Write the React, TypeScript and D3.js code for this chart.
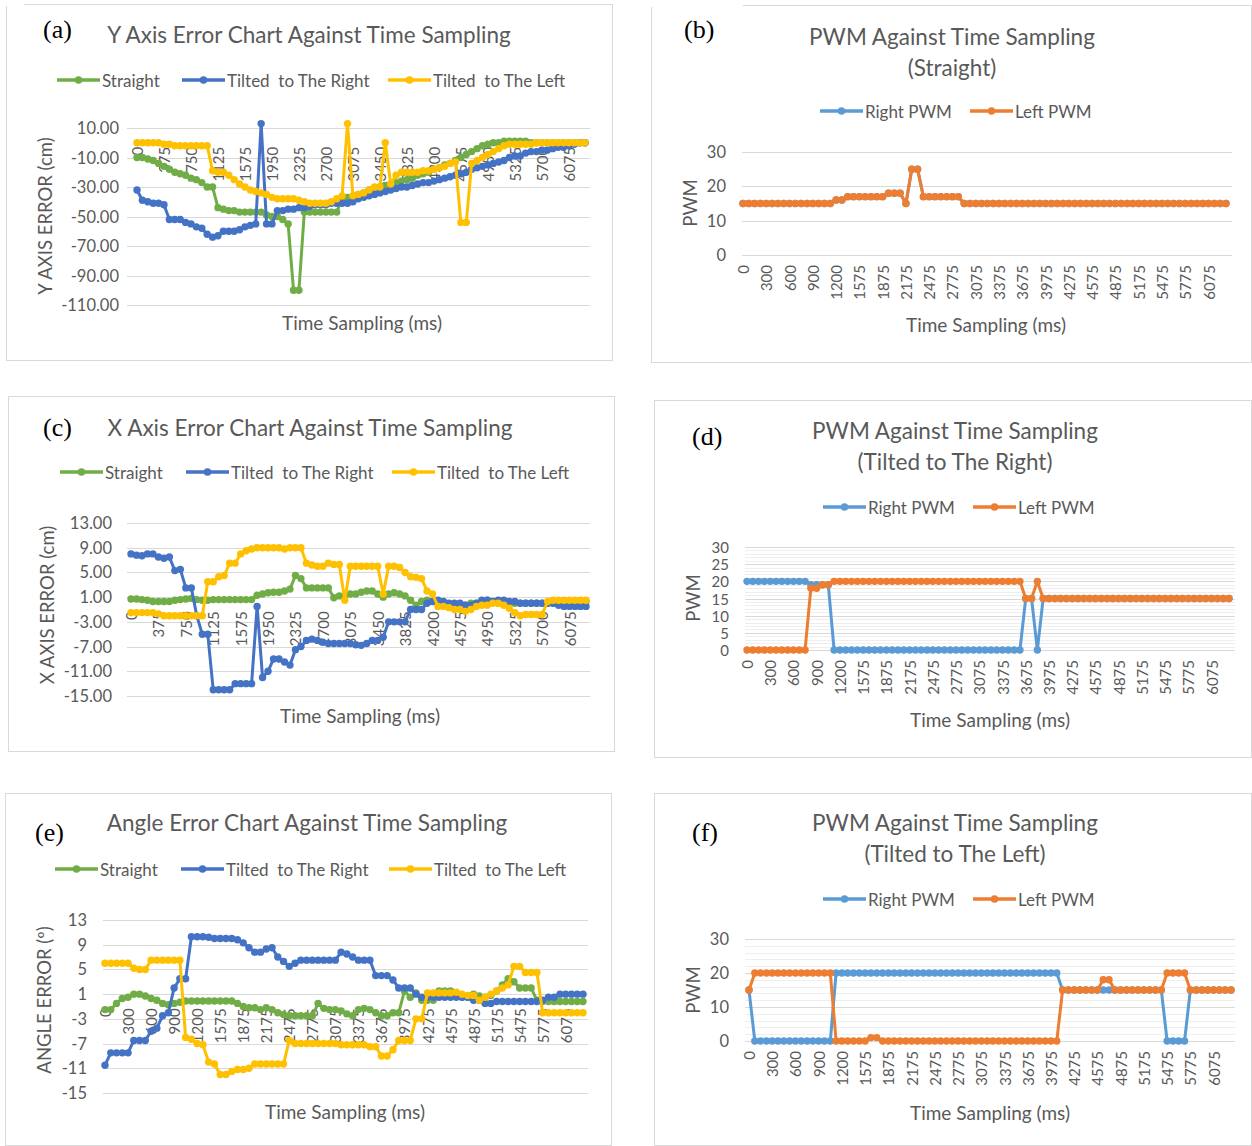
import React from 'react';
import * as d3 from 'd3';

// ---------- shared categories (ms) ----------
const times = [0,75,150,225,300,375,450,525,600,675,750,825,900,975,1050,1125,1200,1350,1425,1500,1575,1650,1725,1800,1875,1950,2025,2100,2175,2250,2325,2400,2475,2550,2625,2700,2775,2850,2925,3000,3075,3150,3225,3300,3375,3450,3525,3600,3675,3750,3825,3900,3975,4050,4125,4200,4275,4350,4425,4500,4575,4650,4725,4800,4875,4950,5025,5100,5175,5250,5325,5400,5475,5550,5625,5700,5775,5850,5925,6000,6075,6150,6225,6300];

// ---------- (a) Y axis error ----------
const aStraight = [-10,-10,-11,-12,-14,-16,-18,-20,-21,-22, -24,-25,-27,-30,-30,-44,-45,-46,-46,-47, -47,-47,-47,-47,-49,-50,-50,-52,-55,-100, -100,-47,-47,-47,-47,-47,-47,-47,-38,-37, -36,-35,-34,-32,-31,-30,-29,-28,-27,-26, -25,-24,-22,-21,-20,-18,-17,-15,-14,-12, -10,-8,-6,-4,-2,-1,0,0,1,1, 1,1,1,0,0,0,0,0,0,0, 0,0,0,0];
const aRight = [-32,-39,-40,-41,-41,-42,-52,-52,-52,-54, -55,-57,-58,-62,-64,-63,-60,-60,-60,-59, -57,-56,-55,13,-55,-55,-46,-46,-45,-45, -44,-44,-43,-42,-42,-42,-41,-41,-41,-41, -40,-38,-37,-36,-35,-34,-33,-32,-31,-30, -30,-29,-28,-27,-27,-26,-25,-24,-23,-22, -21,-20,-18,-17,-16,-15,-14,-13,-12,-10, -9,-9,-7,-6,-6,-5,-5,-4,-3,-3, -2,-1,0,0];
const aLeft = [0,0,0,0,0,-1,-1,-2,-2,-2, -2,-2,-2,-2,-19,-20,-20,-22,-25,-28, -30,-32,-33,-34,-35,-37,-38,-38,-38,-38, -39,-40,-41,-41,-41,-41,-40,-38,-36,13, -36,-35,-34,-32,-30,-30,0,-28,-22,-20, -20,-20,-20,-19,-19,-18,-17,-16,-14,-13, -54,-54,-14,-12,-10,-8,-6,-4,-2,-1, -1,-1,-1,-1,0,0,0,0,0,0, 0,0,0,0];

// ---------- (b) PWM straight ----------
const bRightPwm = [15,15,15,15,15,15,15,15,15,15, 15,15,15,15,15,15,16,16,17,17, 17,17,17,17,17,18,18,18,15,25, 25,17,17,17,17,17,17,17,15,15, 15,15,15,15,15,15,15,15,15,15, 15,15,15,15,15,15,15,15,15,15, 15,15,15,15,15,15,15,15,15,15, 15,15,15,15,15,15,15,15,15,15, 15,15,15,15];
const bLeftPwm = [15,15,15,15,15,15,15,15,15,15, 15,15,15,15,15,15,16,16,17,17, 17,17,17,17,17,18,18,18,15,25, 25,17,17,17,17,17,17,17,15,15, 15,15,15,15,15,15,15,15,15,15, 15,15,15,15,15,15,15,15,15,15, 15,15,15,15,15,15,15,15,15,15, 15,15,15,15,15,15,15,15,15,15, 15,15,15,15];

// ---------- (c) X axis error ----------
const cStraight = [0.7,0.7,0.6,0.5,0.3,0.3,0.3,0.3,0.5,0.6, 0.7,0.8,0.6,0.5,0.5,0.6,0.6,0.6,0.6,0.6, 0.6,0.6,0.6,1.3,1.5,1.7,1.8,1.8,2.0,2.3, 4.5,4,2.5,2.5,2.5,2.5,2.5,0.9,1.2,1.3, 1.5,1.5,1.8,2,2,1.5,1,1.5,1.7,1.5, 1.2,0.5,-0.3,0.3,0.5,0.3,0,-0.3,-0.5,-0.5, -0.5,-0.3,0,0,0.3,0.5,0.3,0,0,0, 0,0,0,0,0,0,0,0,0.3,0.3, 0.3,0.3,0.3,0.3];
const cRight = [8,7.8,7.7,8,8,7.5,7.3,7.5,5.3,5.5, 2.5,2.5,-2,-5,-5,-14,-14,-14,-14,-13, -13,-13,-13,-0.5,-12,-11,-9,-9,-9.5,-10, -7.5,-7,-6,-5.8,-6,-6.3,-6.5,-6.5,-6.5,-6.5, -6.5,-6.7,-6.8,-6.5,-6,-6,-5.5,-3,-3,-3, -3,-1,-1,-1,0,0.3,0.5,0.3,0,0, 0,-0.3,-0.3,0,0.5,0.5,0.3,0.5,0.5,0.3, 0.3,0,0,0,0,0,0,0,-0.3,-0.5, -0.5,-0.5,-0.5,-0.5];
const cLeft = [-1.5,-1.5,-1.5,-1.5,-1.5,-1.7,-2,-2,-2,-2, -2,-2,-2,-2,3.5,3.5,4.3,4.5,6.5,6.5, 8,8.5,8.8,9,9,9,9,9,8.8,9, 9,9,6.5,6.2,6,6,6.5,6.3,6.3,0.5, 6,6,6,6,6,6,1.5,6,6,5.8, 5,4.3,4.2,4,2,1.5,-0.5,-0.5,-0.7,-1, -1,-1.3,-1,-0.5,-0.3,-0.3,0,0,-0.3,-0.8, -1.5,-2,-1.8,-1.8,-1.8,-1.8,0.3,0.5,0.5,0.5, 0.5,0.5,0.5,0.5];

// ---------- (d) PWM tilted right ----------
const dRightPwm = [20,20,20,20,20,20,20,20,20,20, 20,19,19,19,19,0,0,0,0,0, 0,0,0,0,0,0,0,0,0,0, 0,0,0,0,0,0,0,0,0,0, 0,0,0,0,0,0,0,0,15,15, 0,15,15,15,15,15,15,15,15,15, 15,15,15,15,15,15,15,15,15,15, 15,15,15,15,15,15,15,15,15,15, 15,15,15,15];
const dLeftPwm = [0,0,0,0,0,0,0,0,0,0, 0,18,18,19,19,20,20,20,20,20, 20,20,20,20,20,20,20,20,20,20, 20,20,20,20,20,20,20,20,20,20, 20,20,20,20,20,20,20,20,15,15, 20,15,15,15,15,15,15,15,15,15, 15,15,15,15,15,15,15,15,15,15, 15,15,15,15,15,15,15,15,15,15, 15,15,15,15];

// ---------- (e) angle error ----------
const eStraight = [-1.5,-1.5,-0.5,0.3,0.5,1,1,0.7,0.3,0, -0.5,-0.7,-0.5,-0.3,-0.1,-0.1,-0.1,-0.1,-0.1,-0.1, -0.1,-0.1,-0.1,-0.5,-1,-1.2,-1.2,-1.5,-1.2,-1.5, -2,-2.3,-2.5,-2.5,-2.5,-2.5,-2.5,-0.5,-1.3,-1.5, -1.5,-1.7,-2.2,-2.5,-1.5,-1.3,-1.5,-2,-2.5,-2.5, -2,-2,1.5,0.5,1.2,0,0,0,1.5,1.5, 1.5,1.2,0.5,0.5,1,0.7,0.5,0.8,1.5,2.5, 3.5,3,2,2,2,0,-0.2,-0.2,-0.2,-0.2, -0.2,-0.2,-0.2,-0.2];
const eRight = [-10.5,-8.5,-8.5,-8.5,-8.5,-6.5,-6.5,-6.5,-5,-4.5, -2.5,-2,2,3.5,3.5,10.3,10.3,10.3,10.2,10, 10,10,10,9.8,9.3,8.5,7.8,7.8,8.3,8.5, 7,6.3,5.5,6,6.5,6.5,6.5,6.5,6.5,6.5, 6.5,7.8,7.5,7,6.5,6.5,6.5,4,4,4, 3.3,2,2,2,1,0.5,0.5,0.5,0.5,0.5, 0.5,0.5,0.5,0.5,0,0,-0.5,-0.5,-0.2,-0.2, -0.2,-0.2,-0.2,-0.2,-0.2,-0.2,0,0.5,0.5,1, 1,1,1,1];
const eLeft = [6,6,6,6,6,5.2,5,5,6.5,6.5, 6.5,6.5,6.5,6.5,-6,-6.3,-7,-7.2,-10,-10.3, -12,-12,-11.5,-11.2,-11.2,-11,-10.3,-10.3,-10.3,-10.3, -10.3,-10.3,-6.5,-7,-7,-7,-7,-7,-7,-7, -7,-7.2,-7.2,-7.2,-7.2,-7.2,-7.5,-7.5,-9,-9, -8,-6.5,-6.5,-6.5,-3,-3,1.2,1.2,1.2,1.2, 1.2,1.3,1,0.8,0.8,0,0.5,1,1.5,2, 2.5,5.5,5.5,4.5,4.5,4.5,-2,-2,-2,-2, -2,-2,-2,-2];

// ---------- (f) PWM tilted left ----------
const fRightPwm = [15,0,0,0,0,0,0,0,0,0, 0,0,0,0,0,20,20,20,20,20, 20,20,20,20,20,20,20,20,20,20, 20,20,20,20,20,20,20,20,20,20, 20,20,20,20,20,20,20,20,20,20, 20,20,20,20,15,15,15,15,15,15, 15,15,15,15,15,15,15,15,15,15, 15,15,0,0,0,0,15,15,15,15, 15,15,15,15];
const fLeftPwm = [15,20,20,20,20,20,20,20,20,20, 20,20,20,20,20,0,0,0,0,0, 0,1,1,0,0,0,0,0,0,0, 0,0,0,0,0,0,0,0,0,0, 0,0,0,0,0,0,0,0,0,0, 0,0,0,0,15,15,15,15,15,15, 15,18,18,15,15,15,15,15,15,15, 15,15,20,20,20,20,15,15,15,15, 15,15,15,15];

// ---------- tick values ----------
const aTicks = [10,-10,-30,-50,-70,-90,-110];
const ceTicks = [13,9,5,1,-3,-7,-11,-15];
const pwmTicks10 = [0,10,20,30];
const pwmTicks5 = [0,5,10,15,20,25,30];

const errLegend = ['Straight', 'Tilted  to The Right', 'Tilted  to The Left'];
const pwmLegend = ['Right PWM', 'Left PWM'];

const C_GREEN = '#70AD47', C_BLUE = '#4472C4', C_YEL = '#FFC000';
const C_RPWM = '#5B9BD5', C_LPWM = '#ED7D31';
const TXT = '#595959';
const GRID = '#d9d9d9';
const MINOR = '#eeeeee';
const FONT = 'Lato, "Open Sans", "Noto Sans", sans-serif';
const SERIF = '"Liberation Serif", "DejaVu Serif", serif';

type Series = { name: string; color: string; values: number[] };
type Cfg = {
  letter: string; letterX: number; letterY: number;
  box: [number, number, number, number];
  gap?: [number, number];
  title: string[]; titleX: number; titleY: number;
  legendY: number; legendX: number[];
  yTitle: string; yTitleX: number; yTitleY: number;
  yDomain: [number, number]; yTicks: number[]; yPx: [number, number]; yLabelX: number; yFmt: (v: number) => string;
  yFont?: number;
  minorStep?: number;
  gridX: [number, number]; xPx: [number, number]; labelEvery: number; labelGap: number;
  xTitleX: number; xTitleY: number;
  series: Series[];
};

function Panel({ c }: { c: Cfg }) {
  const xs = d3.scalePoint<string>().domain(times.map(String)).range(c.xPx);
  const ys = d3.scaleLinear().domain(c.yDomain).range(c.yPx);
  const line = d3.line<number>().x((_, i) => xs(String(times[i])) as number).y(v => ys(v));
  const [bx0, by0, bx1, by1] = c.box;
  const minors: number[] = [];
  if (c.minorStep) {
    for (let v = c.yDomain[0]; v <= c.yDomain[1]; v += c.minorStep) {
      if (!c.yTicks.includes(v)) minors.push(v);
    }
  }
  const y0 = ys(0);
  return (
    <g>
      <rect x={bx0 + 0.5} y={by0 + 0.5} width={bx1 - bx0} height={by1 - by0} fill="#fff" stroke={GRID} strokeWidth={1} />
      {c.gap ? <rect x={c.gap[0]} y={by0 - 1} width={c.gap[1] - c.gap[0]} height={3} fill="#fff" /> : null}
      {minors.map(v => (
        <line key={'m' + v} x1={c.gridX[0]} x2={c.gridX[1]} y1={Math.round(ys(v)) + 0.5} y2={Math.round(ys(v)) + 0.5} stroke={MINOR} strokeWidth={1} />
      ))}
      {c.yTicks.map(v => (
        <g key={'t' + v}>
          <line x1={c.gridX[0]} x2={c.gridX[1]} y1={Math.round(ys(v)) + 0.5} y2={Math.round(ys(v)) + 0.5} stroke={GRID} strokeWidth={1} />
          <text x={c.yLabelX} y={ys(v)} textAnchor="end" dominantBaseline="central" fontSize={c.yFont || 16.5} fill={TXT} fontFamily={FONT}>{c.yFmt(v)}</text>
        </g>
      ))}
      {times.map((t, i) => i % c.labelEvery === 0 ? (
        <text key={'x' + i} transform={`translate(${xs(String(t))},${y0 + c.labelGap}) rotate(-90)`} textAnchor="end" dominantBaseline="central" fontSize={15} fill={TXT} fontFamily={FONT}>{t}</text>
      ) : null)}
      {c.series.map(s => (
        <g key={s.name}>
          <path d={line(s.values) || ''} fill="none" stroke={s.color} strokeWidth={3} strokeLinejoin="round" />
          {s.values.map((v, i) => (
            <circle key={i} cx={xs(String(times[i]))} cy={ys(v)} r={3.7} fill={s.color} />
          ))}
        </g>
      ))}
      {c.title.map((t, i) => (
        <text key={'ti' + i} x={c.titleX} y={c.titleY + i * 31} textAnchor="middle" fontSize={22.5} fill={TXT} fontFamily={FONT}>{t}</text>
      ))}
      {c.series.map((s, i) => (
        <g key={'lg' + i}>
          <line x1={c.legendX[i]} x2={c.legendX[i] + 43} y1={c.legendY} y2={c.legendY} stroke={s.color} strokeWidth={3.5} />
          <circle cx={c.legendX[i] + 21.5} cy={c.legendY} r={3.8} fill={s.color} />
          <text x={c.legendX[i] + 45} y={c.legendY} dominantBaseline="central" fontSize={17} fill={TXT} fontFamily={FONT} style={{ whiteSpace: 'pre' }}>{s.name}</text>
        </g>
      ))}
      <text transform={`translate(${c.yTitleX},${c.yTitleY}) rotate(-90)`} textAnchor="middle" dominantBaseline="central" fontSize={18.5} fill={TXT} fontFamily={FONT}>{c.yTitle}</text>
      <text x={c.xTitleX} y={c.xTitleY} textAnchor="middle" dominantBaseline="central" fontSize={19} fill={TXT} fontFamily={FONT}>Time Sampling (ms)</text>
      <text x={c.letterX} y={c.letterY} fontSize={26} fill="#000" fontFamily={SERIF}>{c.letter}</text>
    </g>
  );
}

const f2 = (v: number) => v.toFixed(2);
const f0 = (v: number) => String(v);

const errSeries = (g: number[], b: number[], y: number[]): Series[] => [
  { name: errLegend[0], color: C_GREEN, values: g },
  { name: errLegend[1], color: C_BLUE, values: b },
  { name: errLegend[2], color: C_YEL, values: y },
];
const pwmSeries = (r: number[], l: number[]): Series[] => [
  { name: pwmLegend[0], color: C_RPWM, values: r },
  { name: pwmLegend[1], color: C_LPWM, values: l },
];

const panels: Cfg[] = [
  {
    letter: '(a)', letterX: 43, letterY: 38, box: [6, 4, 612, 360], gap: [5, 24],
    title: ['Y Axis Error Chart Against Time Sampling'], titleX: 309, titleY: 43,
    legendY: 80, legendX: [57, 182, 388],
    yTitle: 'Y AXIS ERROR (cm)', yTitleX: 45, yTitleY: 216,
    yDomain: [-110, 10], yTicks: aTicks, yPx: [305, 128], yLabelX: 119, yFmt: f2,
    gridX: [127, 590], xPx: [137, 585], labelEvery: 5, labelGap: 4,
    xTitleX: 362, xTitleY: 322,
    series: errSeries(aStraight, aRight, aLeft),
  },
  {
    letter: '(b)', letterX: 684, letterY: 38, box: [651, 5, 1251, 362], gap: [650, 743],
    title: ['PWM Against Time Sampling', '(Straight)'], titleX: 952, titleY: 45,
    legendY: 111, legendX: [820, 970],
    yTitle: 'PWM', yTitleX: 690, yTitleY: 203,
    yDomain: [0, 30], yTicks: pwmTicks10, yPx: [255, 152], yLabelX: 726, yFmt: f0,
    gridX: [742, 1232], xPx: [743, 1226], labelEvery: 4, labelGap: 10,
    xTitleX: 986, xTitleY: 324,
    series: pwmSeries(bRightPwm, bLeftPwm),
  },
  {
    letter: '(c)', letterX: 43, letterY: 436, box: [8, 396, 614, 751],
    title: ['X Axis Error Chart Against Time Sampling'], titleX: 310, titleY: 436,
    legendY: 472, legendX: [60, 186, 392],
    yTitle: 'X AXIS ERROR (cm)', yTitleX: 47, yTitleY: 605,
    yDomain: [-15, 13], yTicks: ceTicks, yPx: [696, 523], yLabelX: 112, yFmt: f2,
    gridX: [127, 590], xPx: [131, 586], labelEvery: 5, labelGap: 8,
    xTitleX: 360, xTitleY: 715,
    series: errSeries(cStraight, cRight, cLeft),
  },
  {
    letter: '(d)', letterX: 692, letterY: 445, box: [654, 400, 1251, 757],
    title: ['PWM Against Time Sampling', '(Tilted to The Right)'], titleX: 955, titleY: 439,
    legendY: 507, legendX: [823, 973],
    yTitle: 'PWM', yTitleX: 693, yTitleY: 598,
    yDomain: [0, 30], yTicks: pwmTicks5, yPx: [650, 547], yLabelX: 729, yFmt: f0, yFont: 15, minorStep: 1,
    gridX: [745, 1235], xPx: [747, 1229], labelEvery: 4, labelGap: 10,
    xTitleX: 990, xTitleY: 719,
    series: pwmSeries(dRightPwm, dLeftPwm),
  },
  {
    letter: '(e)', letterX: 35, letterY: 841, box: [5, 793, 611, 1145],
    title: ['Angle Error Chart Against Time Sampling'], titleX: 307, titleY: 831,
    legendY: 869, legendX: [55, 181, 389],
    yTitle: 'ANGLE ERROR (º)', yTitleX: 44, yTitleY: 1000,
    yDomain: [-15, 13], yTicks: ceTicks, yPx: [1093, 920], yLabelX: 87, yFmt: f0,
    gridX: [103, 588], xPx: [105, 583], labelEvery: 4, labelGap: 8,
    xTitleX: 345, xTitleY: 1111,
    series: errSeries(eStraight, eRight, eLeft),
  },
  {
    letter: '(f)', letterX: 692, letterY: 841, box: [654, 793, 1251, 1145],
    title: ['PWM Against Time Sampling', '(Tilted to The Left)'], titleX: 955, titleY: 831,
    legendY: 899, legendX: [823, 973],
    yTitle: 'PWM', yTitleX: 693, yTitleY: 990,
    yDomain: [0, 30], yTicks: pwmTicks10, yPx: [1041, 939], yLabelX: 729, yFmt: f0, minorStep: 2,
    gridX: [745, 1235], xPx: [749, 1231], labelEvery: 4, labelGap: 10,
    xTitleX: 990, xTitleY: 1112,
    series: pwmSeries(fRightPwm, fLeftPwm),
  },
];

export default function App() {
  return (
    <svg width={1252} height={1146} style={{ position: 'absolute', left: 0, top: 0, background: '#fff' }}>
      <rect width={1252} height={1146} fill="#fff" />
      {panels.map(p => <Panel key={p.letter} c={p} />)}
    </svg>
  );
}
